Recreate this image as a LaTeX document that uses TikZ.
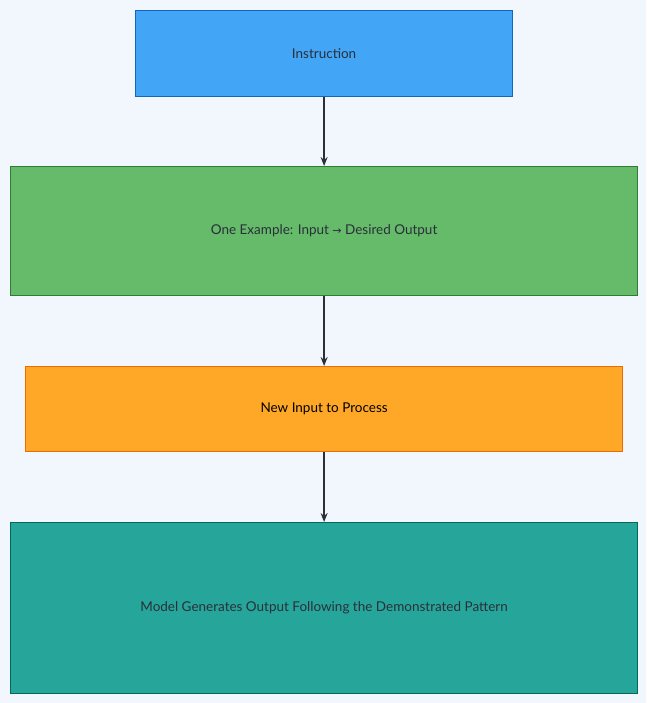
\documentclass[tikz,border=0pt]{standalone}
\usepackage{fontspec}
\setmainfont{Lato}
\newfontfamily\arrowfont{DejaVu Sans}
\usetikzlibrary{arrows.meta}
\definecolor{bg}{HTML}{F2F7FE}
\definecolor{txt}{HTML}{2A2F3A}
\tikzset{
 box/.style={draw, line width=1.2pt, minimum height=#1, anchor=north west, inner sep=0pt, text=txt, font=\fontsize{13.5}{16}\selectfont},
 conn/.style={-{Stealth[length=9pt,width=7pt,inset=3pt]}, line width=1.6pt, draw=txt}
}
\begin{document}
\begin{tikzpicture}[x=1pt,y=-1pt]
\fill[bg] (0,0) rectangle (646,703);
\useasboundingbox (0,0) rectangle (646,703);
\node[box=86pt, minimum width=377pt, fill={rgb,255:red,66;green,165;blue,245}, draw={rgb,255:red,21;green,101;blue,192}] (a) at (135,10) {Instruction};
\node[box=129pt, minimum width=627pt, fill={rgb,255:red,102;green,187;blue,106}, draw={rgb,255:red,46;green,125;blue,50}] (b) at (10,166) {One Example: Input {\arrowfont\fontsize{11}{16}\selectfont →} Desired Output};
\node[box=85pt, minimum width=597pt, fill={rgb,255:red,255;green,167;blue,38}, draw={rgb,255:red,239;green,108;blue,0}, text=black] (c) at (25,366) {New Input to Process};
\node[box=171pt, minimum width=627pt, fill={rgb,255:red,38;green,166;blue,154}, draw={rgb,255:red,0;green,105;blue,92}] (d) at (10,522) {Model Generates Output Following the Demonstrated Pattern};
\draw[conn] (a.south) -- (b.north);
\draw[conn] (b.south) -- (c.north);
\draw[conn] (c.south) -- (d.north);
\end{tikzpicture}
\end{document}
